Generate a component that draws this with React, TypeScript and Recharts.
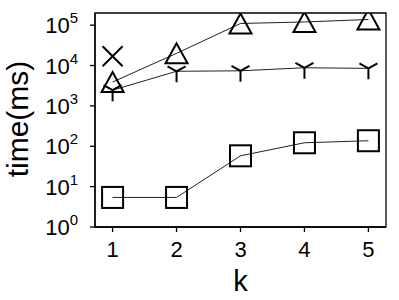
import React from 'react';
import { LineChart, Line, XAxis, YAxis, ReferenceArea } from 'recharts';

const ks = [1, 2, 3, 4, 5];
const triangleSeries = [3900, 20000, 110000, 120000, 138000];
const tridownSeries = [2450, 7200, 7400, 8800, 8500];
const squareSeries = [5.4, 5.4, 58, 122, 137];
const crossSeries: (number | null)[] = [17000, null, null, null, null];
const yTicks = [1, 10, 100, 1000, 10000, 100000];

const data = ks.map((k, i) => ({
  k,
  tri: triangleSeries[i],
  tdown: tridownSeries[i],
  sq: squareSeries[i],
  cross: crossSeries[i],
}));

const FONT = '"Liberation Sans", Arial, Helvetica, sans-serif';
const MS = 2; // marker stroke width

const TriangleDot = (p: any) => {
  const { cx, cy, index } = p;
  if (cx == null || cy == null) return <g key={`t${index}`} />;
  return (
    <path key={`t${index}`} d={`M${cx},${cy - 10} L${cx + 11},${cy + 10} L${cx - 11},${cy + 10} Z`}
      fill="none" stroke="#000" strokeWidth={MS} strokeLinejoin="miter" />
  );
};
const TriDownDot = (p: any) => {
  const { cx, cy, index } = p;
  if (cx == null || cy == null) return <g key={`y${index}`} />;
  return (
    <path key={`y${index}`} d={`M${cx},${cy} L${cx},${cy + 11} M${cx},${cy} L${cx - 9},${cy - 5} M${cx},${cy} L${cx + 9},${cy - 5}`}
      fill="none" stroke="#000" strokeWidth={MS} />
  );
};
const SquareDot = (p: any) => {
  const { cx, cy, index } = p;
  if (cx == null || cy == null) return <g key={`s${index}`} />;
  return (
    <rect key={`s${index}`} x={cx - 10.5} y={cy - 10.5} width={21} height={21}
      fill="none" stroke="#000" strokeWidth={MS} />
  );
};
const CrossDot = (p: any) => {
  const { cx, cy, index, value } = p;
  if (cx == null || cy == null || value == null) return <g key={`c${index}`} />;
  return (
    <path key={`c${index}`} d={`M${cx - 10},${cy - 10} L${cx + 10},${cy + 10} M${cx - 10},${cy + 10} L${cx + 10},${cy - 10}`}
      fill="none" stroke="#000" strokeWidth={MS} />
  );
};

const YTick = (p: any) => {
  const { x, y, payload } = p;
  const exp = Math.round(Math.log10(payload.value));
  return (
    <text x={x} y={y + 8} textAnchor="end" fontSize={22} fontFamily={FONT} fill="#000">
      <tspan>10</tspan>
      <tspan dy={-10} fontSize={15}>{exp}</tspan>
    </text>
  );
};

const XTick = (p: any) => {
  const { x, y, payload } = p;
  return (
    <text x={x} y={y + 23} textAnchor="middle" fontSize={22} fontFamily={FONT} fill="#000">
      {payload.value}
    </text>
  );
};

const YLabel = (p: any) => {
  const vb = p.viewBox || { x: 0, y: 13, width: 95, height: 214 };
  const cx = 28;
  const cy = vb.y + vb.height / 2 - 1;
  return (
    <text x={cx} y={cy} transform={`rotate(-90 ${cx} ${cy})`} textAnchor="middle"
      fontSize={30} fontFamily={FONT} fill="#000">time(ms)</text>
  );
};

export default function App() {
  return (
    <div style={{ position: 'absolute', left: 0, top: 0, background: '#fff' }}>
      <LineChart width={399} height={300} data={data} margin={{ top: 13, right: 13, left: 0, bottom: 3 }}>
        <XAxis dataKey="k" type="number" domain={[0.725, 5.275]} ticks={ks} allowDataOverflow
          tickSize={5} tick={<XTick />} stroke="#000" strokeWidth={1.3} height={70}
          label={{ value: 'k', position: 'insideBottom', offset: 6, fontSize: 29, fontFamily: FONT, fill: '#000' }} />
        <YAxis type="number" scale="log" domain={[1, 200000]} ticks={yTicks} allowDataOverflow
          tickSize={5} tick={<YTick />} tickMargin={12} stroke="#000" strokeWidth={1.3} width={95}
          label={<YLabel />} />
        <ReferenceArea x1={0.725} x2={5.275} y1={1} y2={200000} fill="none" stroke="#000" strokeWidth={1.3} ifOverflow="visible" />
        <Line dataKey="sq" stroke="#222" strokeWidth={1} isAnimationActive={false} dot={SquareDot} activeDot={false} />
        <Line dataKey="tdown" stroke="#222" strokeWidth={1} isAnimationActive={false} dot={TriDownDot} activeDot={false} />
        <Line dataKey="tri" stroke="#222" strokeWidth={1} isAnimationActive={false} dot={TriangleDot} activeDot={false} />
        <Line dataKey="cross" stroke="none" isAnimationActive={false} dot={CrossDot} activeDot={false} connectNulls={false} />
      </LineChart>
    </div>
  );
}
